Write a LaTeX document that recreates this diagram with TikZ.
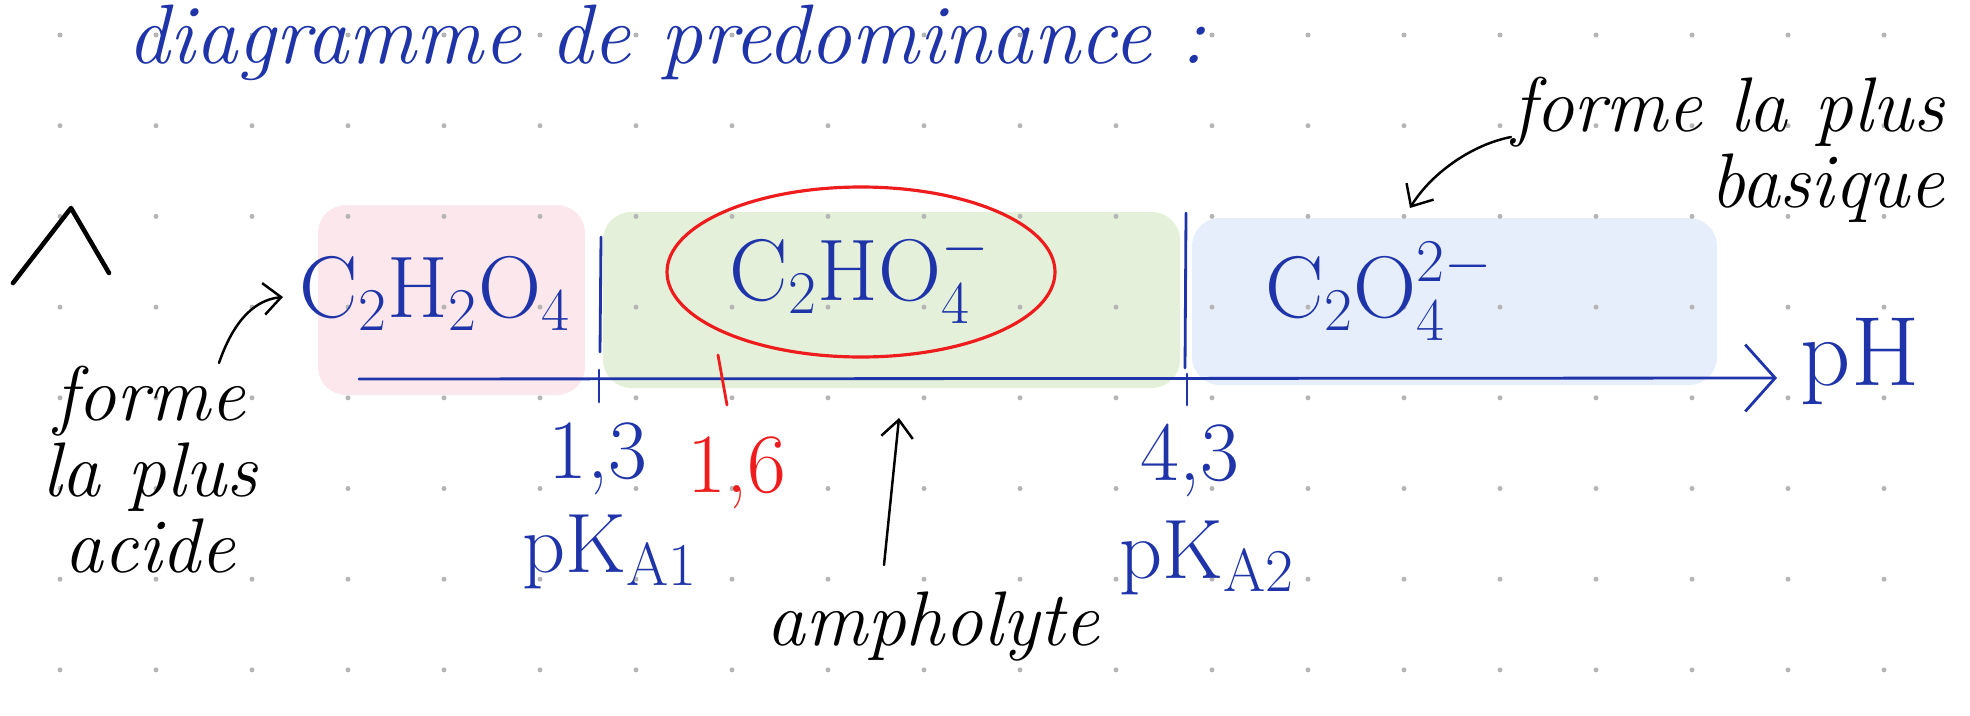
\documentclass[tikz,border=0pt]{standalone}
\usepackage{amsmath}
\usepackage{xcolor}
\usepackage{tikz}
\usetikzlibrary{arrows.meta,positioning,calc}

\definecolor{ink}{HTML}{1E34A8}
\definecolor{redink}{HTML}{EE1C1C}
\definecolor{acidbg}{HTML}{FBE7EC}
\definecolor{amphbg}{HTML}{E4F0DA}
\definecolor{basebg}{HTML}{E7EEFB}
\definecolor{dotgray}{HTML}{B5B5B5}

\tikzset{
  zone/.style={rounded corners=8pt},
  blueline/.style={draw=ink, line width=0.8pt, line cap=round},
  redline/.style={draw=redink, line width=0.8pt, line cap=round},
  pointer/.style={draw=black, line width=0.7pt, line cap=round,
    -{Straight Barb[length=5pt,width=9pt]}},
  species/.style={text=ink, inner sep=0pt, font=\fontsize{26}{30}\selectfont},
  value/.style={text=ink, inner sep=0pt, font=\fontsize{24}{28}\selectfont},
  note/.style={inner sep=0pt, align=center, font=\fontsize{22}{21.6}\selectfont\itshape},
  heading/.style={text=ink, inner sep=0pt, font=\fontsize{24}{28}\selectfont\itshape}
}

\begin{document}
\begin{tikzpicture}[x=0.01cm, y=-0.01cm]
  \useasboundingbox (0,0) rectangle (1970,715);

  % highlighted zones
  \fill[acidbg, zone] (318,205) rectangle (585,395);
  \fill[amphbg, zone] (603,212) rectangle (1180,388);
  \fill[basebg, zone] (1192,218) rectangle (1717,385);

  % dotted paper
  \foreach \i in {0,...,19}
    \foreach \j in {0,...,7}
      \fill[dotgray] ({60+96*\i},{35+90.7*\j}) circle (2.5);

  % title
  \node[heading, anchor=base west] (title) at (127,64) {diagramme de predominance :};

  % stray mark
  \draw[black, line width=1.3pt, line join=round, line cap=round] (13,283) -- (71,208) -- (109,273);

  % pH axis
  \coordinate (axisstart) at (359,379);
  \coordinate (axisend) at (1777,378);
  \draw[blueline, -{Straight Barb[length=8.5pt,width=19pt]}] (axisstart) -- (axisend);
  \node[value, anchor=base west, font=\fontsize{28}{32}\selectfont] (ph) at (1800,385) {pH};

  % boundaries
  \draw[blueline] (601,237) -- (600,352);
  \draw[blueline] (599,370) -- (599,402);
  \draw[blueline] (1186,213) -- (1185,368);
  \draw[blueline] (1187,374) -- (1187,405);
  \draw[redline] (718,355) -- (727,405);

  % species
  \node[species, anchor=base west] (acidform) at (299,317) {$\mathrm{C_2H_2O_4}$};
  \node[species, anchor=base west] (amphform) at (729,300) {$\mathrm{C_2HO_4^-}$};
  \node[species, anchor=base west] (baseform) at (1265,317) {$\mathrm{C_2O_4^{2-}}$};
  \draw[redline, line width=0.9pt] (861,272) ellipse (194 and 85);

  % values
  \node[value, anchor=base] (pka1val) at (598,478) {1,3};
  \node[value, anchor=base, text=redink] (redval) at (737,492) {1,6};
  \node[value, anchor=base] (pka2val) at (1190,480) {4,3};
  \node[value, anchor=base] (pka1) at (610,572) {pK$_{\mathrm{A}1}$};
  \node[value, anchor=base] (pka2) at (1207,578) {pK$_{\mathrm{A}2}$};

  % notes
  \node[note] (acidnote) at (150,470) {forme\\la plus\\acide};
  \node[note, anchor=east, align=right] (basenote) at (1945,150) {forme la plus\\basique};
  \node[note, anchor=base] (ampho) at (933,645) {ampholyte};

  % pointers
  \coordinate (acidtail) at (219,363);
  \coordinate (acidhead) at (283,297);
  \draw[pointer] (acidtail) .. controls (232,325) and (252,300) .. (acidhead);
  \coordinate (basetail) at (1511,137);
  \coordinate (basehead) at (1410,208);
  \draw[pointer] (basetail) .. controls (1470,145) and (1430,175) .. (basehead);
  \coordinate (amphotail) at (884,565);
  \coordinate (amphohead) at (899,418);
  \draw[pointer] (amphotail) -- (amphohead);
\end{tikzpicture}
\end{document}
